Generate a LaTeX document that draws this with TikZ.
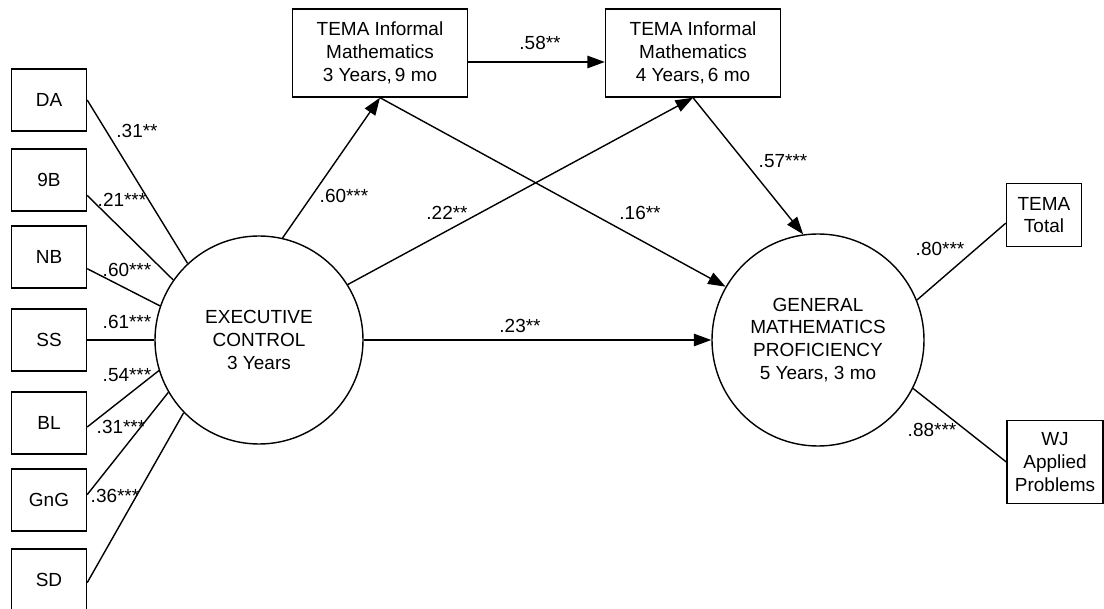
\documentclass[tikz,border=0pt]{standalone}
\usepackage{fontspec}
\setmainfont{Liberation Sans}
\usetikzlibrary{arrows.meta}

\begin{document}
\begin{tikzpicture}[x=0.2mm,y=-0.2mm,line width=0.8pt,
    font=\fontsize{10.8}{13}\selectfont,
    obs/.style={draw, rectangle, minimum width=15mm, minimum height=12.4mm, align=center, inner sep=1pt},
    tbox/.style={draw, rectangle, minimum width=35mm, minimum height=17.6mm, align=center},
    latent/.style={draw, circle, align=center, inner sep=0pt},
    lbl/.style={inner sep=0pt},
    arr/.style={-{Triangle[length=3.5mm,width=2.5mm]}}]
    \useasboundingbox (0,0) rectangle (1104,609);

    % latent variables
    \node[latent, minimum size=41.6mm] (ec) at (259,340) {EXECUTIVE\\CONTROL\\3 Years};
    \node[latent, minimum size=42.4mm] (gm) at (818,340) {GENERAL\\MATHEMATICS\\PROFICIENCY\\5 Years, 3 mo};

    % TEMA informal
    \node[tbox] (tm1) at (380,53) {TEMA Informal\\Mathematics\\3 Years,\,9 mo};
    \node[tbox] (tm2) at (693,53) {TEMA Informal\\Mathematics\\4 Years,\,6 mo};

    % executive control indicators
    \foreach \nm/\yy/\st/\en/\lab/\lx/\ly in {
        DA/100/0/133/.31**/137/131,
        9B/180/-22/145/.21***/122/200,
        NB/257/-17/161/.60***/127/270,
        SS/340/0/180/.61***/127/322,
        BL/423/-6/197/.54***/127/375,
        GnG/500/8/210/.31***/121/427,
        SD/580/-4/224/.36***/115/496}{
        \node[obs] (\nm) at (49,\yy) {\nm};
        \draw (\nm.\st) -- (ec.\en);
        \node[lbl] at (\lx,\ly) {\lab};
    }

    % math indicators
    \node[obs, minimum height=12.6mm] (tt) at (1044,215) {TEMA\\Total};
    \node[obs, minimum width=19.2mm, minimum height=16.6mm] (wj) at (1055,462) {WJ\\Applied\\Problems};
    \draw (gm.22) -- (tt.192);
    \draw (gm.333) -- (wj.west);
    \node[lbl] at (940,249) {.80***};
    \node[lbl] at (932,430) {.88***};

    % paths
    \draw[arr] (ec.77) -- (tm1.south);
    \draw[arr] (ec.32) -- (tm2.south);
    \draw[arr] ([yshift=-1.8mm]tm1.east) -- ([yshift=-1.8mm]tm2.west);
    \draw[arr] (tm1.south) -- (gm.150);
    \draw[arr] (tm2.south) -- (gm.98);
    \draw[arr] (ec.east) -- (gm.west);
    \node[lbl] at (344,196) {.60***};
    \node[lbl] at (447,213) {.22**};
    \node[lbl] at (540,43) {.58**};
    \node[lbl] at (640,213) {.16**};
    \node[lbl] at (783,161) {.57***};
    \node[lbl] at (520,326) {.23**};
\end{tikzpicture}
\end{document}
